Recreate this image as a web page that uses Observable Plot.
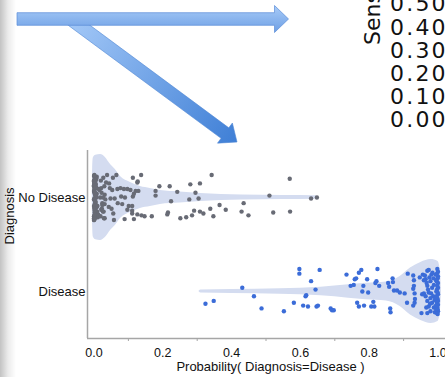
<!DOCTYPE html>
<html>
<head>
<meta charset="utf-8">
<script src="https://cdn.jsdelivr.net/npm/d3@7"></script>
<script src="https://cdn.jsdelivr.net/npm/@observablehq/plot@0.6"></script>
<style>
  html, body { margin: 0; padding: 0; background: #fff; }
  #wrap { position: relative; width: 445px; height: 377px; overflow: hidden; background: #fff; font-family: "Liberation Sans", Arial, Helvetica, sans-serif; }
  #shade { position: absolute; left: 0; top: 0; width: 18px; height: 377px; background: linear-gradient(to right, rgba(0,0,0,0.24), rgba(0,0,0,0.08) 8px, rgba(0,0,0,0) 16px); pointer-events: none; }
  #deco { position: absolute; left: 0; top: 0; }
  #chart { position: absolute; left: 0; top: 0; }
</style>
</head>
<body>
<div id="wrap">
  <div id="chart"></div>
  <svg id="deco" width="445" height="377"></svg>
  <div id="shade"></div>
</div>
<script>
// ---- data ----
const categories = ["Disease", "No Disease"];
const xTickValues = [0, 0.2, 0.4, 0.6, 0.8, 1.0];
const xMinorTicks = [0.1, 0.3, 0.5, 0.7, 0.9];
const xLabel = "Probability( Diagnosis=Disease )";
const yLabel = "Diagnosis";
const sideLabel = "Sens";
const sideTicks = ["0.50", "0.40", "0.30", "0.20", "0.10", "0.00"];

// [probability, jitter] for "No Disease"
const noDiseasePts = [
  [0.000,0.23],[0.002,-0.21],[0.001,0.15],[0.004,0.02],[0.000,-0.09],[0.003,0.19],[0.006,-0.17],[0.001,0.08],
  [0.002,-0.03],[0.008,0.22],[0.000,-0.24],[0.005,0.11],[0.003,-0.14],[0.001,0.05],[0.010,-0.20],[0.002,0.17],
  [0.004,-0.06],[0.000,0.13],[0.007,0.00],[0.001,-0.12],[0.003,0.21],[0.012,-0.18],[0.000,0.07],[0.002,-0.23],
  [0.006,0.10],[0.001,0.24],[0.004,-0.08],[0.009,-0.15],[0.000,0.18],[0.003,0.03],[0.002,-0.19],[0.005,0.14],
  [0.001,-0.01],[0.014,0.09],[0.000,-0.22],[0.003,0.20],[0.007,-0.11],[0.002,0.06],[0.001,0.16],[0.004,-0.05],
  [0.011,-0.21],[0.000,0.12],[0.006,0.01],[0.002,-0.16],[0.003,0.22],[0.001,-0.10],[0.008,0.04],[0.000,-0.20],
  [0.005,0.18],[0.002,-0.07],[0.016,0.08],[0.001,0.23],[0.003,-0.13],[0.000,-0.02],[0.004,0.15],[0.007,0.20],
  [0.002,-0.18],[0.001,0.10],[0.010,-0.09],[0.000,-0.24],[0.003,0.13],[0.005,0.03],[0.002,-0.14],[0.013,-0.19],
  [0.001,0.06],[0.000,0.17],[0.004,-0.04],[0.006,0.11],[0.002,-0.22],[0.018,0.00],[0.001,0.19],[0.003,-0.12],
  [0.020,0.18],[0.024,-0.08],[0.022,0.05],[0.027,0.21],[0.019,-0.20],[0.030,0.12],[0.026,-0.15],[0.033,-0.02],
  [0.021,0.10],[0.029,-0.22],[0.035,0.16],[0.023,-0.12],[0.031,0.03],
  [0.038,0.24],[0.065,0.24],[0.137,0.24],[0.342,0.24],[0.113,0.21],[0.055,0.21],[0.126,0.16],[0.190,0.12],
  [0.220,0.12],[0.280,0.14],[0.308,0.15],[0.569,0.20],[0.044,0.15],[0.127,0.17],[0.068,0.09],[0.077,0.10],
  [0.087,0.09],[0.097,0.09],[0.106,0.08],[0.046,0.10],[0.053,0.08],[0.121,0.07],[0.129,0.07],[0.179,0.07],
  [0.179,0.02],[0.242,0.06],[0.295,0.05],[0.510,0.02],[0.631,-0.01],[0.648,0.00],[0.224,-0.04],[0.277,-0.02],
  [0.304,-0.01],[0.026,0.00],[0.048,-0.01],[0.060,-0.01],[0.079,0.01],[0.090,0.00],[0.113,0.01],[0.116,0.04],
  [0.024,-0.06],[0.031,-0.07],[0.043,-0.10],[0.069,-0.06],[0.082,-0.07],[0.101,-0.09],[0.111,-0.09],[0.021,-0.13],
  [0.028,-0.15],[0.051,-0.12],[0.056,-0.17],[0.097,-0.13],[0.111,-0.14],[0.111,-0.17],[0.126,-0.18],[0.138,-0.19],
  [0.031,-0.22],[0.058,-0.24],[0.089,-0.23],[0.116,-0.23],[0.147,-0.20],[0.168,-0.20],[0.215,-0.16],[0.213,-0.18],
  [0.251,-0.22],[0.268,-0.21],[0.285,-0.19],[0.291,-0.14],[0.308,-0.15],[0.318,-0.17],[0.338,-0.12],[0.347,-0.20],
  [0.365,-0.08],[0.383,-0.13],[0.429,-0.15],[0.435,-0.06],[0.449,-0.19],[0.521,-0.16],[0.570,-0.15]
];

// [probability, jitter] for "Disease"
const diseasePts = [
  [0.324,-0.13],[0.348,-0.10],[0.431,0.04],[0.465,-0.05],[0.487,-0.18],[0.552,-0.21],[0.581,-0.12],[0.597,0.24],
  [0.597,0.19],[0.608,-0.15],[0.615,-0.05],[0.617,-0.04],[0.622,-0.16],[0.631,0.11],[0.644,0.02],[0.647,-0.16],
  [0.651,-0.15],[0.656,0.23],[0.688,-0.18],[0.692,-0.20],[0.697,-0.20],[0.734,0.18],[0.746,0.06],[0.755,0.07],
  [0.758,0.13],[0.762,0.14],[0.765,-0.12],[0.770,-0.16],[0.770,0.20],[0.777,0.23],[0.780,0.00],[0.783,0.06],
  [0.785,-0.15],[0.794,0.13],[0.797,-0.01],[0.806,-0.16],[0.812,-0.11],[0.815,-0.16],[0.818,0.09],[0.821,0.11],
  [0.824,0.24],[0.829,0.06],[0.855,0.09],[0.858,0.05],[0.861,-0.18],[0.862,-0.22],[0.868,0.14],[0.869,0.10],
  [0.872,0.01],[0.881,0.01],[0.889,-0.01],[0.903,-0.02],[0.910,-0.12],[0.912,0.19],[0.928,0.17],[0.930,0.06],
  [0.932,-0.12],[0.930,0.12],[0.928,0.03],[0.932,-0.02],[0.928,-0.15],[0.933,-0.08],[0.947,0.15],[0.954,-0.03],
  [0.959,-0.02],[0.952,-0.23],[0.956,0.18],[0.962,0.17],[0.959,0.12],
  [0.969,0.22],[0.973,0.23],[0.981,0.18],[0.964,0.13],[0.978,0.11],[0.969,0.06],[0.983,0.04],[0.973,-0.01],
  [0.964,-0.05],[0.978,-0.07],[0.969,-0.10],[0.983,-0.12],[0.973,-0.16],[0.988,-0.17],[0.978,-0.21],[0.969,-0.23],
  [0.986,-0.05],[0.988,0.07],[0.975,0.15],[0.984,0.20],[0.966,-0.17],[0.980,-0.02],[0.990,-0.09],[0.971,0.02],
  [0.987,0.14],[0.977,-0.13],[0.991,-0.22],[0.967,0.09],
  [0.998,0.24],[1.000,0.21],[0.997,0.19],[1.000,0.16],[0.999,0.14],[0.996,0.11],[1.000,0.09],[0.998,0.06],
  [1.000,0.04],[0.997,0.02],[0.999,-0.01],[1.000,-0.03],[0.996,-0.05],[0.999,-0.08],[1.000,-0.10],[0.997,-0.12],
  [1.000,-0.14],[0.998,-0.17],[0.999,-0.19],[1.000,-0.21],[0.997,-0.23],[0.999,-0.24],[0.995,0.12],[0.994,-0.06],
  [0.995,0.00],[0.994,-0.15],[0.993,0.18],[0.995,-0.19]
];

// violin outlines: [probability, half-width in category units]
const noDiseaseViolin = [
  [-0.005,0],[-0.004,0.30],[-0.002,0.42],[0.005,0.45],[0.019,0.457],[0.033,0.426],[0.048,0.351],[0.062,0.298],
  [0.077,0.223],[0.106,0.16],[0.135,0.117],[0.164,0.096],[0.193,0.074],[0.25,0.059],[0.31,0.043],[0.43,0.027],
  [0.55,0.021],[0.645,0.018],[0.65,0]
];
const diseaseViolin = [
  [0.305,0],[0.31,0.016],[0.40,0.021],[0.54,0.029],[0.66,0.046],[0.74,0.071],[0.79,0.088],[0.85,0.101],
  [0.89,0.16],[0.92,0.25],[0.95,0.309],[0.98,0.34],[1.0,0.319],[1.007,0.213],[1.01,0]
];

// ---- chart ----
const catPos = {"Disease": 0, "No Disease": 1};
const violinFill = "#d4dcf0";
const greyDot = "#686b75";
const blueDot = "#3b6cd8";
const axisGrey = "#a6a6a6";
const fontFam = "'Liberation Sans', Arial, Helvetica, sans-serif";

const chart = Plot.plot({
  width: 445,
  height: 377,
  marginTop: 150,
  marginBottom: 39,
  marginLeft: 87,
  marginRight: 0,
  style: {fontFamily: fontFam, background: "transparent", overflow: "visible"},
  x: {domain: [-0.0189, 1.0218], axis: null},
  y: {domain: [-0.5, 1.5], axis: null},
  marks: [
    Plot.areaY(noDiseaseViolin, {x: d => d[0], y1: d => catPos["No Disease"] - d[1], y2: d => catPos["No Disease"] + d[1], fill: violinFill, curve: "monotone-x"}),
    Plot.areaY(diseaseViolin, {x: d => d[0], y1: d => catPos["Disease"] - d[1], y2: d => catPos["Disease"] + d[1], fill: violinFill, curve: "monotone-x"}),
    Plot.dot(noDiseasePts, {x: d => d[0], y: d => catPos["No Disease"] + d[1], r: 2.2, fill: greyDot, stroke: "none"}),
    Plot.dot(diseasePts, {x: d => d[0], y: d => catPos["Disease"] + d[1], r: 2.2, fill: blueDot, stroke: "none"}),
    Plot.ruleX([-0.0189], {stroke: axisGrey, strokeWidth: 1.5}),
    Plot.ruleY([-0.5], {stroke: axisGrey, strokeWidth: 1.5}),
    Plot.axisX({ticks: xMinorTicks, tickSize: 3, tickFormat: () => "", stroke: axisGrey, anchor: "bottom"}),
    Plot.text(xTickValues, {x: d => d, frameAnchor: "bottom", dy: 14, text: d => d.toFixed(1), fontSize: 12.5, fill: "#111", lineAnchor: "middle"}),
    Plot.text(categories, {y: d => catPos[d], frameAnchor: "left", dx: -2, textAnchor: "end", text: d => d, fontSize: 13, fill: "#111"}),
    Plot.text([xLabel], {frameAnchor: "bottom", dx: 4, dy: 28, text: d => d, fontSize: 13, fill: "#111", lineAnchor: "middle"}),
    Plot.text([yLabel], {frameAnchor: "left", dx: -77.5, rotate: -90, text: d => d, fontSize: 13, fill: "#111"})
  ]
});
document.getElementById("chart").appendChild(chart);

// ---- screenshot decorations (arrows and clipped neighbour panel text) ----
const deco = d3.select("#deco");
const defs = deco.append("defs");
const g1 = defs.append("linearGradient").attr("id", "gh").attr("x1", 0).attr("y1", 0).attr("x2", 0).attr("y2", 1);
g1.append("stop").attr("offset", "0%").attr("stop-color", "#a8cbf8");
g1.append("stop").attr("offset", "100%").attr("stop-color", "#6d9fe4");
const g2 = defs.append("linearGradient").attr("id", "gd").attr("gradientUnits", "userSpaceOnUse")
  .attr("x1", 70).attr("y1", 20).attr("x2", 237).attr("y2", 142);
g2.append("stop").attr("offset", "0%").attr("stop-color", "#a3c8f7");
g2.append("stop").attr("offset", "100%").attr("stop-color", "#3f7fd6");

function arrowPts(x0, y0, x1, y1, shaftHalf, headHalf, headLen) {
  const dx = x1 - x0, dy = y1 - y0, L = Math.hypot(dx, dy);
  const ux = dx / L, uy = dy / L, nx = -uy, ny = ux;
  const hx = x1 - ux * headLen, hy = y1 - uy * headLen;
  return [
    [x0 + nx * shaftHalf, y0 + ny * shaftHalf],
    [hx + nx * shaftHalf, hy + ny * shaftHalf],
    [hx + nx * headHalf, hy + ny * headHalf],
    [x1, y1],
    [hx - nx * headHalf, hy - ny * headHalf],
    [hx - nx * shaftHalf, hy - ny * shaftHalf],
    [x0 - nx * shaftHalf, y0 - ny * shaftHalf]
  ].map(p => p.join(",")).join(" ");
}
deco.append("polygon").attr("points", arrowPts(72, 20, 237, 142, 6.5, 12.5, 15))
  .attr("fill", "url(#gd)").attr("stroke", "#4f86d4").attr("stroke-width", 0.6);
deco.append("polygon").attr("points", arrowPts(17, 19, 288.5, 19, 6.3, 13.5, 14))
  .attr("fill", "url(#gh)").attr("stroke", "#5a8cd8").attr("stroke-width", 0.7);

deco.append("text").attr("transform", "translate(380,45) rotate(-90)")
  .attr("font-family", "'DejaVu Sans', sans-serif").attr("font-size", 22).attr("fill", "#111").text(sideLabel);
deco.selectAll("text.side").data(sideTicks).join("text").attr("class", "side")
  .attr("x", 390).attr("y", (d, i) => 3.5 + i * 23.2).attr("dy", "0.36em")
  .attr("letter-spacing", 2.2)
  .attr("font-family", "'DejaVu Sans', sans-serif").attr("font-size", 22).attr("fill", "#111").text(d => d);
</script>
</body>
</html>
